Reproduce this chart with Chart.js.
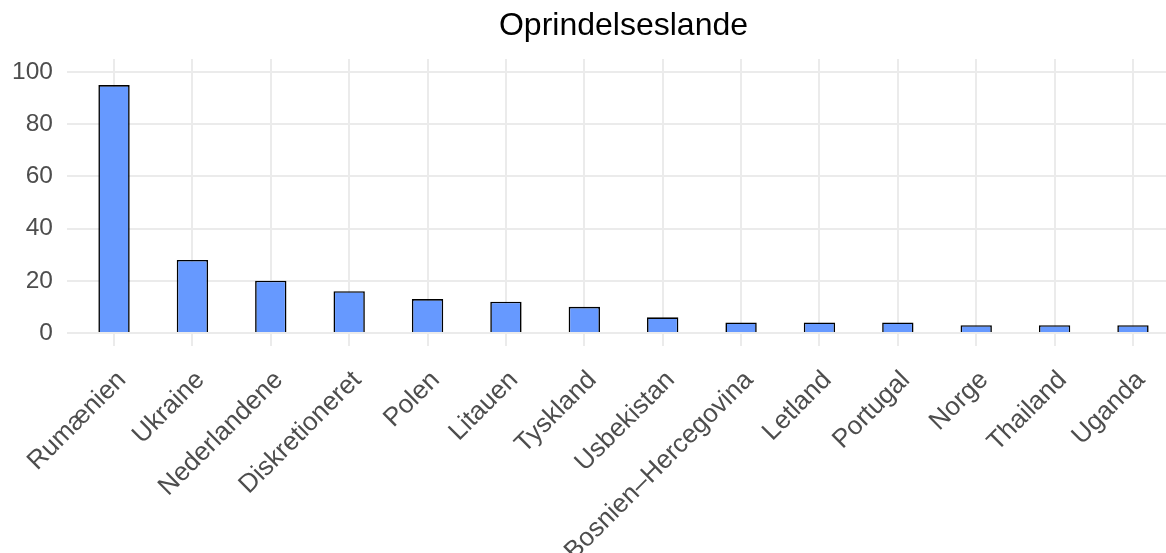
<!DOCTYPE html>
<html>
<head>
<meta charset="utf-8">
<script src="https://cdn.jsdelivr.net/npm/chart.js@4"></script>
<style>
  html, body { margin: 0; padding: 0; background: #fff; overflow: hidden; }
  #wrap { width: 1180px; height: 553px; }
</style>
</head>
<body>
<div id="wrap"><canvas id="landChart"></canvas></div>
<script>
const ctx = document.getElementById('landChart').getContext('2d');

// data
const countries = ['Rumænien', 'Ukraine', 'Nederlandene', 'Diskretioneret', 'Polen', 'Litauen',
  'Tyskland', 'Usbekistan', 'Bosnien–Hercegovina', 'Letland', 'Portugal', 'Norge', 'Thailand', 'Uganda'];
const counts = [95, 28, 20, 16, 13, 12, 10, 6, 4, 4, 4, 3, 3, 3];
const yTicks = [0, 10, 20, 30, 40, 50, 60, 70, 80, 90, 100];

const points = countries.map((c, i) => ({ x: i, y: counts[i] }));
const family = '"Liberation Sans", Arial, sans-serif';

new Chart(ctx, {
  type: 'bar',
  data: {
    datasets: [{
      data: points,
      backgroundColor: '#6699ff',
      borderColor: '#000',
      borderWidth: 1.6,
      barPercentage: 0.4,
      categoryPercentage: 1
    }]
  },
  options: {
    responsive: true,
    maintainAspectRatio: false,
    animation: false,
    layout: { padding: 0 },
    plugins: {
      legend: { display: false },
      tooltip: { enabled: false },
      title: {
        display: true,
        text: 'Oprindelseslande',
        fullSize: false,
        color: '#000',
        font: { family: family, size: 32, weight: 'normal' },
        padding: { top: 7, bottom: 13.6 }
      }
    },
    scales: {
      x: {
        type: 'linear',
        min: -0.6,
        max: 13.6,
        offset: false,
        afterBuildTicks: s => { s.ticks = countries.map((c, i) => ({ value: i })); },
        afterFit: s => { s.height = 207; },
        ticks: {
          autoSkip: false,
          minRotation: 45,
          maxRotation: 45,
          padding: 19,
          labelOffset: 8,
          color: '#4d4d4d',
          font: { family: family, size: 26 },
          callback: v => countries[v]
        },
        grid: { color: '#ebebeb', lineWidth: 2, drawTicks: false, offset: false },
        border: { display: false }
      },
      y: {
        min: -5,
        max: 105,
        afterBuildTicks: s => { s.ticks = yTicks.map(v => ({ value: v })); },
        afterFit: s => { s.width = 67; },
        ticks: {
          padding: 14,
          color: '#4d4d4d',
          font: { family: family, size: 24.5 },
          callback: v => (v % 20 === 0 ? v : '')
        },
        grid: {
          color: '#ebebeb',
          lineWidth: c => (c.tick && c.tick.value % 20 === 0 ? 2 : 1),
          drawTicks: false
        },
        border: { display: false }
      }
    }
  }
});
</script>
</body>
</html>
